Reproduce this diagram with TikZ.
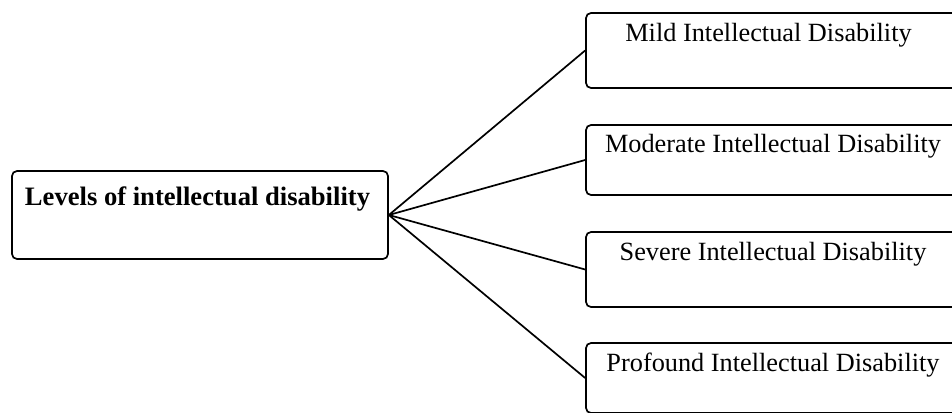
\documentclass[tikz,border=0pt]{standalone}
\usepackage{fontspec}
\setmainfont{Liberation Serif}
\begin{document}
\begin{tikzpicture}[x=1pt,y=-1pt,
  box/.style={draw=black,line width=1.7pt,rounded corners=5pt,inner sep=0pt},
  lbl/.style={anchor=base,inner sep=0pt,font=\fontsize{26.3}{30}\selectfont},
  conn/.style={draw=black,line width=1.7pt}]
\useasboundingbox (0,0) rectangle (952,412);
\clip (0,0) rectangle (952,412);
\node[box,minimum width=376pt,minimum height=88pt] (root) at (200,215) {};
\node[lbl,font=\fontsize{26.6}{30}\selectfont\bfseries] (troot) at (197.5,205) {Levels of intellectual disability};
\node[box,minimum width=374pt,minimum height=75pt] (b1) at (773,50.5) {};
\node[box,minimum width=374pt,minimum height=70pt] (b2) at (773,160) {};
\node[box,minimum width=374pt,minimum height=75pt] (b3) at (773,269.5) {};
\node[box,minimum width=374pt,minimum height=70pt] (b4) at (773,378) {};
\node[lbl] (t1) at (768.5,41.5) {Mild Intellectual Disability};
\node[lbl] (t2) at (773,152) {Moderate Intellectual Disability};
\node[lbl] (t3) at (773,260) {Severe Intellectual Disability};
\node[lbl] (t4) at (773,371.5) {Profound Intellectual Disability};
\draw[conn] (root.east) -- (b1.west);
\draw[conn] (root.east) -- (b2.west);
\draw[conn] (root.east) -- (b3.west);
\draw[conn] (root.east) -- (b4.west);
\end{tikzpicture}
\end{document}
